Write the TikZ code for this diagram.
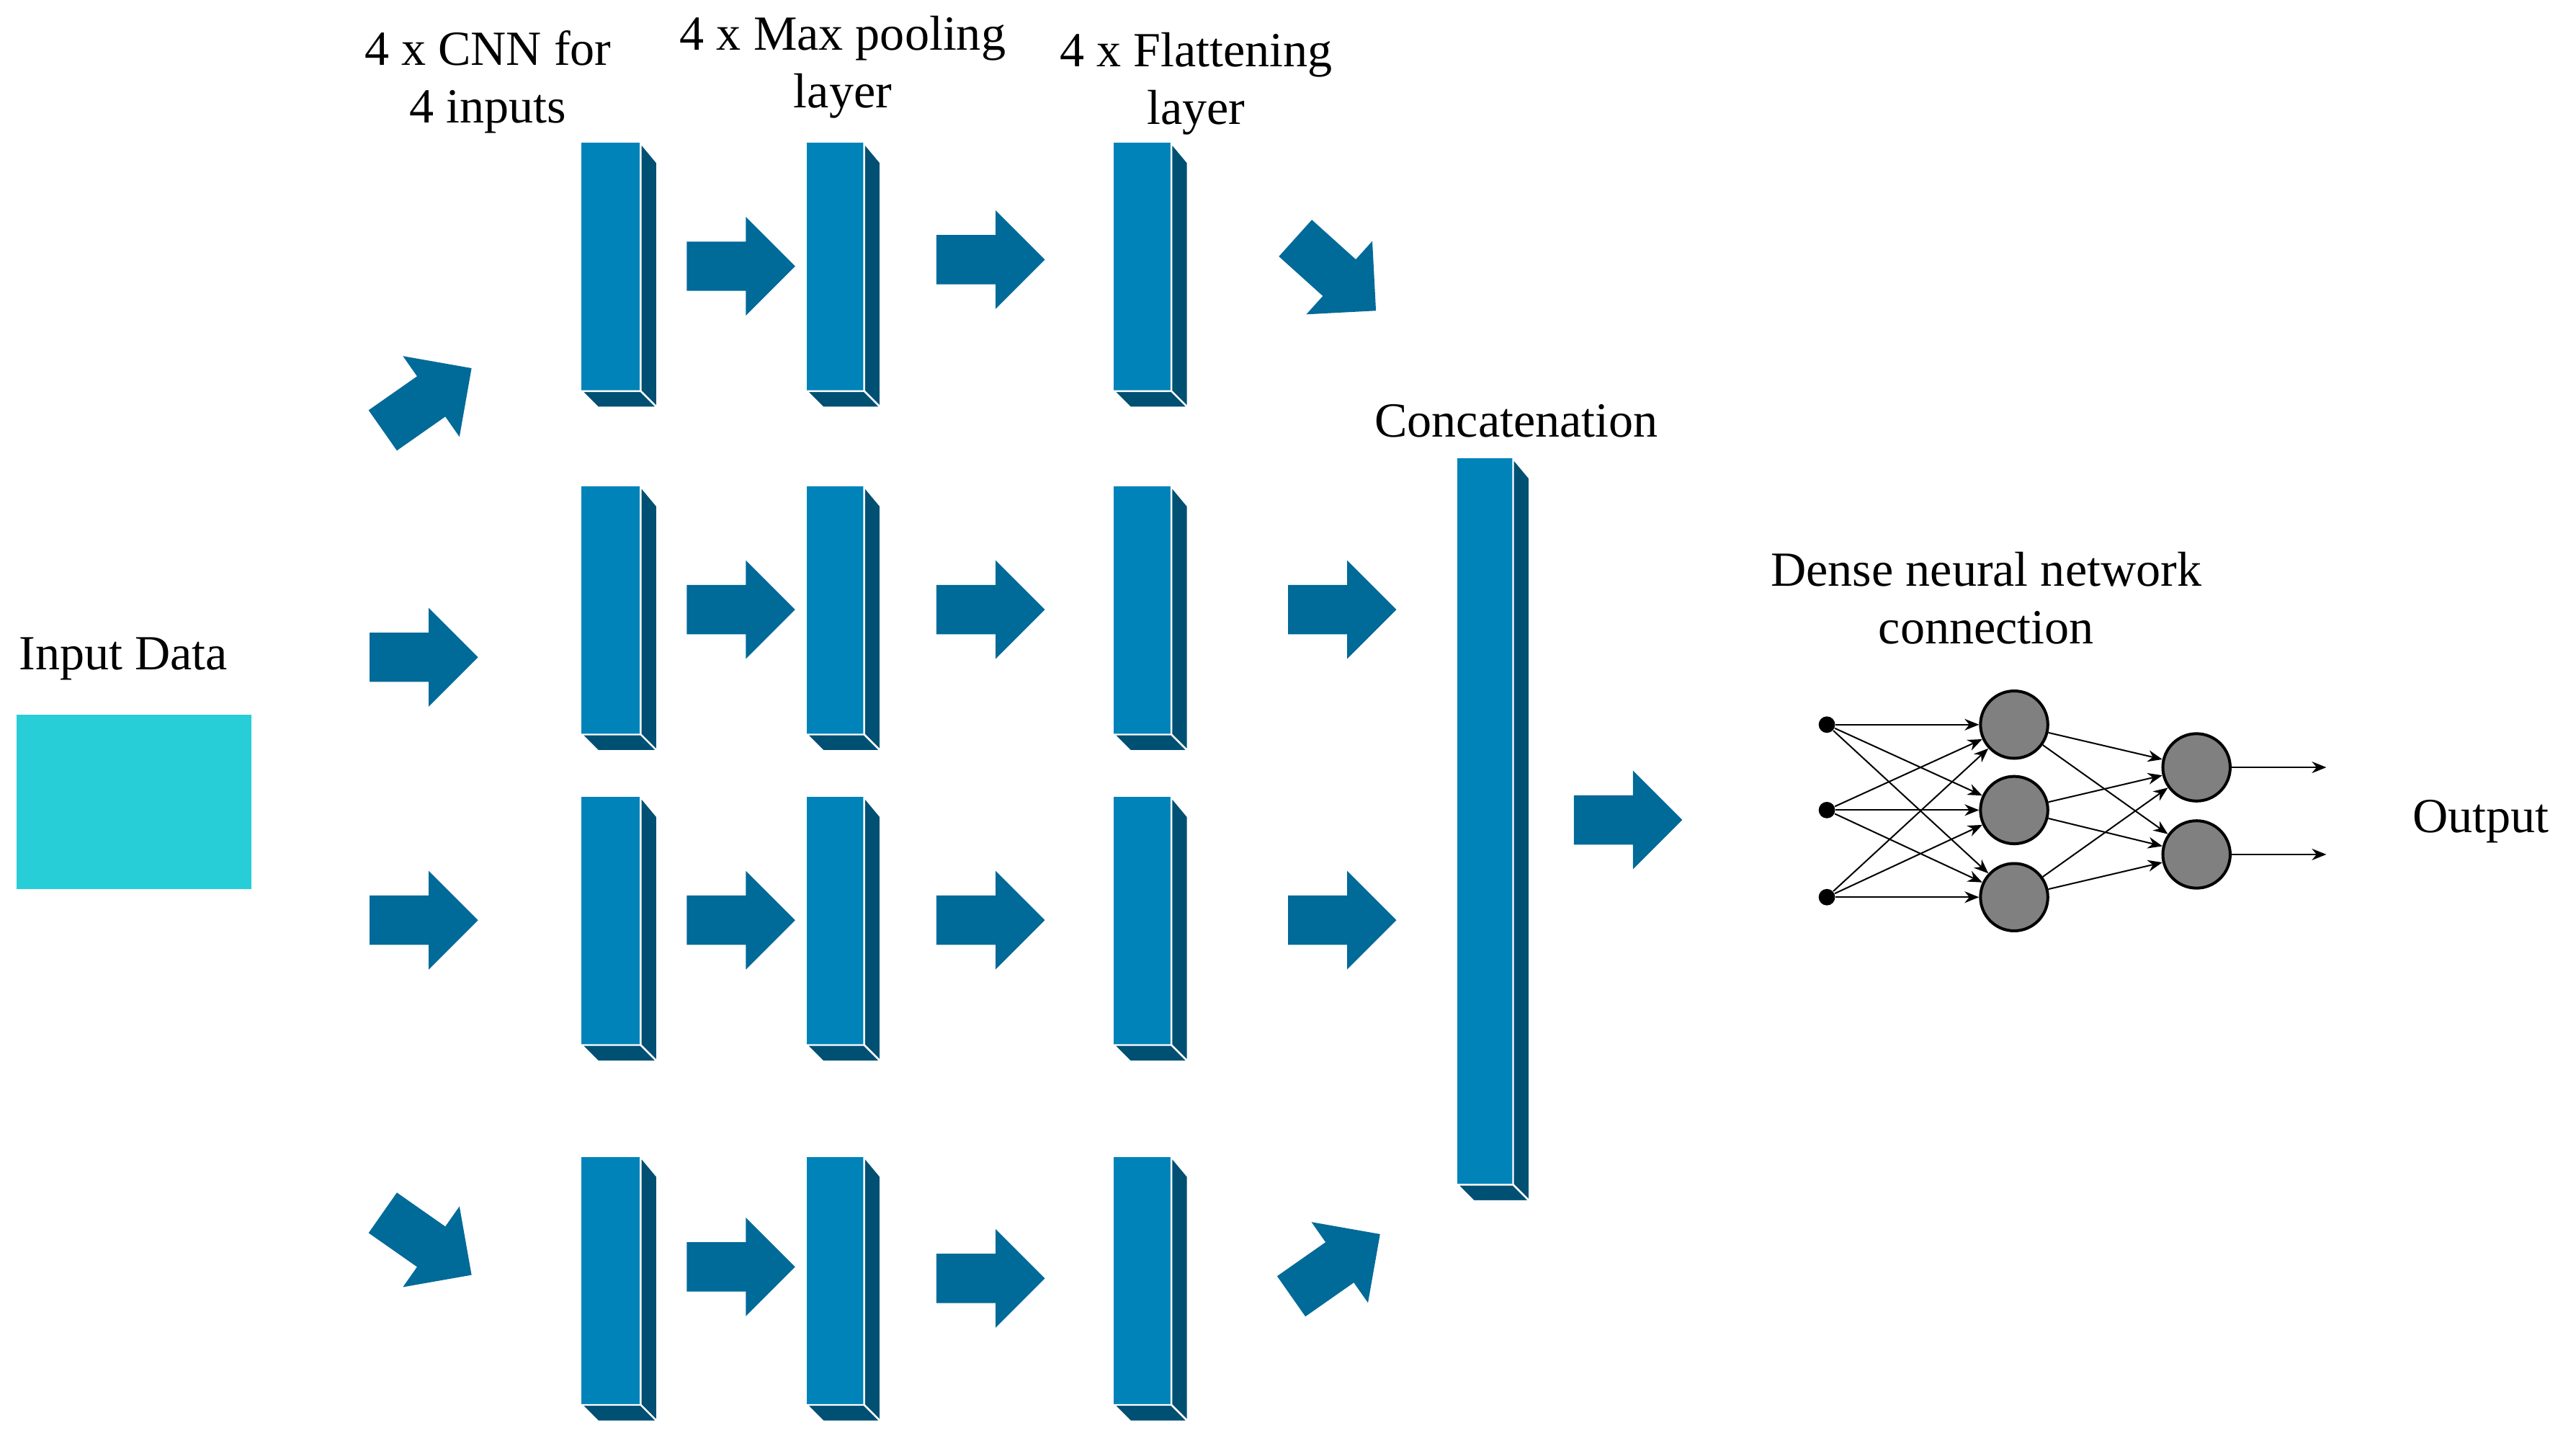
\documentclass[tikz,border=0pt]{standalone}
\usepackage{fontspec}
\setmainfont{Liberation Serif}
\usetikzlibrary{arrows.meta}
\definecolor{face}{HTML}{0083B9}
\definecolor{side}{HTML}{005073}
\definecolor{arr}{HTML}{006A99}
\definecolor{inp}{HTML}{27CED7}
\definecolor{neu}{HTML}{808080}
\begin{document}
\begin{tikzpicture}[x=0.02cm,y=-0.02cm,
  lbl/.style={font=\fontsize{17}{20}\selectfont, align=center, inner sep=0pt},
  neuron/.style={circle, draw=black, line width=1pt, fill=neu, minimum size=0.82cm, inner sep=0pt},
  dot/.style={circle, fill=black, minimum size=0.2cm, inner sep=0pt},
  conn/.style={-{Stealth[length=5pt,width=4pt]}, line width=0.5pt}]
\useasboundingbox (0,0) rectangle (1568,880);
\newcommand{\blk}[4]{% x1 y1 x2 y2
  \fill[face] (#1,#2) rectangle (#3,#4);
  \filldraw[side,draw=white,line width=0.6pt] (#3,#2) -- (#3+10,#2+12) -- (#3+10,#4+10) -- (#3,#4) -- cycle;
  \filldraw[side,draw=white,line width=0.6pt] (#1,#4) -- (#3,#4) -- (#3+10,#4+10) -- (#1+10,#4+10) -- cycle;}
\newcommand{\barr}[3]{% cx cy angle
  \begin{scope}[shift={(#1,#2)}, rotate=-#3]
  \fill[arr] (-33,-15) -- (3,-15) -- (3,-30) -- (33,0) -- (3,30) -- (3,15) -- (-33,15) -- cycle;
  \end{scope}}
% input
\fill[inp] (10,435) rectangle (153,541);
\node[lbl] (tin) at (75,401) {Input Data};
% labels
\node[lbl] (t1) at (297,50) {4 x CNN for\\4 inputs};
\node[lbl] (t2) at (513,41) {4 x Max pooling\\layer};
\node[lbl] (t3) at (728,51) {4 x Flattening\\layer};
\node[lbl] (t4) at (923,256) {Concatenation};
\node[lbl] (t5) at (1209,364) {Dense neural network\\connection};
\node[lbl] (t6) at (1510,500) {Output};
% blocks
\foreach \ya/\yb in {87/238, 296/447, 485/636, 704/855}{
  \blk{354}{\ya}{390}{\yb}
  \blk{491}{\ya}{526}{\yb}
  \blk{678}{\ya}{713}{\yb}}
\blk{887}{279}{921}{721}
% arrows
\barr{260}{243}{-35}
\barr{451}{162}{0}
\barr{603}{158}{0}
\barr{813}{167}{42}
\barr{258}{400}{0}
\barr{451}{371}{0}
\barr{603}{371}{0}
\barr{817}{371}{0}
\barr{258}{560}{0}
\barr{451}{560}{0}
\barr{603}{560}{0}
\barr{817}{560}{0}
\barr{260}{757}{35}
\barr{451}{771}{0}
\barr{603}{778}{0}
\barr{813}{770}{-35}
\barr{991}{499}{0}
% network
\node[dot] (i1) at (1112,441) {};
\node[dot] (i2) at (1112,493) {};
\node[dot] (i3) at (1112,546) {};
\node[neuron] (h1) at (1226,441) {};
\node[neuron] (h2) at (1226,493) {};
\node[neuron] (h3) at (1226,546) {};
\node[neuron] (o1) at (1337,467) {};
\node[neuron] (o2) at (1337,520) {};
\coordinate (e1) at (1416,467);
\coordinate (e2) at (1416,520);
\foreach \a in {i1,i2,i3}\foreach \b in {h1,h2,h3} \draw[conn] (\a) -- (\b);
\foreach \a in {h1,h2,h3}\foreach \b in {o1,o2} \draw[conn] (\a) -- (\b);
\draw[conn] (o1) -- (e1);
\draw[conn] (o2) -- (e2);
\end{tikzpicture}
\end{document}
